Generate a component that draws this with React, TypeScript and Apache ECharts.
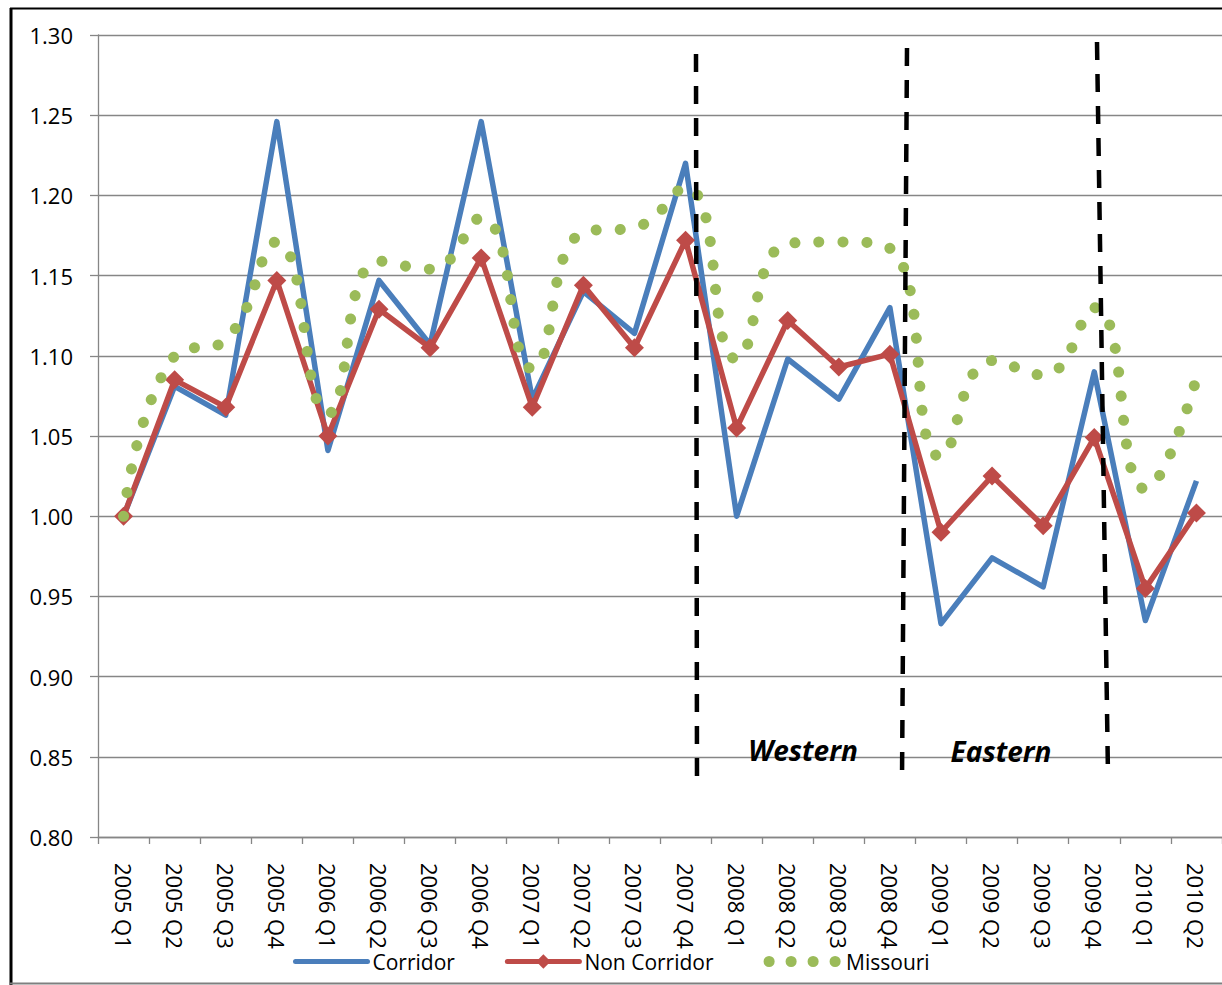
import React, { useEffect, useRef } from "react";
import * as echarts from "echarts";

const categories = [
  "2005 Q1", "2005 Q2", "2005 Q3", "2005 Q4",
  "2006 Q1", "2006 Q2", "2006 Q3", "2006 Q4",
  "2007 Q1", "2007 Q2", "2007 Q3", "2007 Q4",
  "2008 Q1", "2008 Q2", "2008 Q3", "2008 Q4",
  "2009 Q1", "2009 Q2", "2009 Q3", "2009 Q4",
  "2010 Q1", "2010 Q2",
];

const corridor = [
  1.0, 1.081, 1.063, 1.246, 1.041, 1.147, 1.107, 1.246, 1.073, 1.14, 1.114,
  1.22, 1.0, 1.098, 1.073, 1.13, 0.933, 0.974, 0.956, 1.09, 0.935, 1.022,
];

const nonCorridor = [
  1.0, 1.085, 1.068, 1.147, 1.05, 1.129, 1.105, 1.161, 1.068, 1.144, 1.105,
  1.172, 1.055, 1.122, 1.093, 1.101, 0.99, 1.025, 0.994, 1.049, 0.955, 1.002,
];

const missouri = [
  1.0, 1.1, 1.11, 1.171, 1.064, 1.159, 1.154, 1.186, 1.092, 1.177, 1.18,
  1.205, 1.098, 1.17, 1.171, 1.167, 1.037, 1.097, 1.088, 1.13, 1.017, 1.086,
];

const regionLabels = ["Western", "Eastern"];

const FONT = "'Open Sans', 'DejaVu Sans', sans-serif";
const BLUE = "#4A7EBB";
const RED = "#BE4B48";
const GREEN = "#9BBB59";

export default function App() {
  const ref = useRef<HTMLDivElement>(null);

  useEffect(() => {
    if (!ref.current) return;
    const chart = echarts.init(ref.current, undefined, { renderer: "svg" });
    const dashed = {
      stroke: "#000",
      lineWidth: 4.5,
      lineDash: [18, 14],
    };
    const regionText = (text: string, x: number, y: number) => ({
      type: "text",
      x,
      y,
      style: {
        text,
        fontFamily: FONT,
        fontSize: 28,
        fontWeight: "bold",
        fontStyle: "italic",
        fill: "#000",
        align: "center",
        verticalAlign: "middle",
      },
      z: 10,
    });
    chart.setOption({
      animation: false,
      backgroundColor: "#fff",
      grid: { left: 98, top: 35, width: 1129, height: 802, containLabel: false },
      legend: {
        left: 288,
        top: 946,
        itemWidth: 72,
        itemHeight: 18,
        itemGap: 50,
        textStyle: { fontFamily: FONT, fontSize: 21, color: "#000" },
        data: [
          {
            name: "Corridor",
            itemStyle: { opacity: 0 },
            lineStyle: { width: 5, color: BLUE, cap: "round" },
          },
          {
            name: "Non Corridor",
            lineStyle: { width: 5, color: RED, cap: "round" },
          },
          {
            name: "Missouri",
            itemStyle: { opacity: 0 },
            lineStyle: { width: 11, color: GREEN, type: [0.1, 21.9], cap: "round" },
          },
        ],
      },
      xAxis: {
        type: "category",
        data: categories,
        boundaryGap: true,
        axisLine: { show: true, lineStyle: { color: "#868686", width: 1.3 } },
        axisTick: { show: true, length: 7, interval: 0, lineStyle: { color: "#868686", width: 1.3 } },
        axisLabel: {
          rotate: -90,
          interval: 0,
          margin: 26,
          fontFamily: FONT,
          fontSize: 22,
          color: "#000",
        },
        splitLine: { show: false },
      },
      yAxis: {
        type: "value",
        min: 0.8,
        max: 1.3,
        interval: 0.05,
        axisLine: { show: true, lineStyle: { color: "#868686", width: 1.3 } },
        axisTick: { show: true, length: 8, lineStyle: { color: "#868686", width: 1.3 } },
        axisLabel: {
          margin: 25,
          fontFamily: FONT,
          fontSize: 22,
          color: "#000",
          formatter: (v: number) => v.toFixed(2),
        },
        splitLine: { show: true, lineStyle: { color: "#868686", width: 1.3 } },
      },
      series: [
        {
          name: "Corridor",
          type: "line",
          data: corridor,
          symbol: "none",
          lineStyle: { color: BLUE, width: 5.5, join: "round" },
          itemStyle: { color: BLUE },
          z: 2,
        },
        {
          name: "Non Corridor",
          type: "line",
          data: nonCorridor,
          symbol: "diamond",
          symbolSize: 19,
          showSymbol: true,
          lineStyle: { color: RED, width: 5.5, join: "round" },
          itemStyle: { color: RED },
          z: 3,
        },
        {
          name: "Missouri",
          type: "line",
          data: missouri,
          smooth: 0.5,
          symbol: "none",
          lineStyle: { color: GREEN, width: 11, type: [0.1, 23.9], cap: "round" },
          itemStyle: { color: GREEN },
          z: 4,
        },
      ],
      graphic: [
        { type: "line", shape: { x1: 11, y1: 8, x2: 11, y2: 985 }, style: { stroke: "#000", lineWidth: 3 }, silent: true },
        { type: "line", shape: { x1: 10, y1: 8.5, x2: 1222, y2: 8.5 }, style: { stroke: "#000", lineWidth: 2 }, silent: true },
        { type: "line", shape: { x1: 10, y1: 983.5, x2: 1222, y2: 983.5 }, style: { stroke: "#7f7f7f", lineWidth: 2 }, silent: true },
        { type: "line", shape: { x1: 696, y1: 54, x2: 697, y2: 787 }, style: dashed, silent: true, z: 10 },
        { type: "line", shape: { x1: 907, y1: 48, x2: 902, y2: 781 }, style: dashed, silent: true, z: 10 },
        { type: "line", shape: { x1: 1097, y1: 42, x2: 1108, y2: 776 }, style: dashed, silent: true, z: 10 },
        regionText(regionLabels[0], 803, 750),
        regionText(regionLabels[1], 1001, 751),
      ],
    });
    return () => chart.dispose();
  }, []);

  return (
    <div
      ref={ref}
      style={{ position: "absolute", left: 0, top: 0, width: 1222, height: 985 }}
    />
  );
}
